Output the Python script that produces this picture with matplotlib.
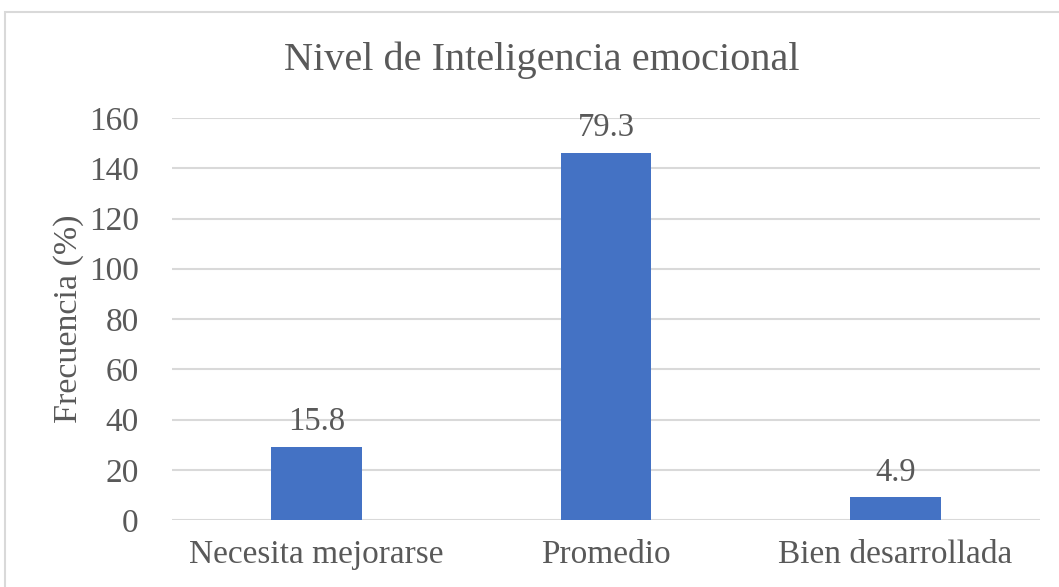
import matplotlib
matplotlib.use("Agg")
import matplotlib.pyplot as plt
from matplotlib.patches import Rectangle

# ==========================================
#  Data
# ==========================================
categories = ["Necesita mejorarse", "Promedio", "Bien desarrollada"]
frequencies = [29, 146, 9]
percent_labels = ["15.8", "79.3", "4.9"]
y_ticks = [0, 20, 40, 60, 80, 100, 120, 140, 160]

title = "Nivel de Inteligencia emocional"
y_label = "Frecuencia (%)"

# ==========================================
#  Style
# ==========================================
plt.rcParams["font.family"] = ["Liberation Serif", "DejaVu Serif"]
text_color = "#595959"
bar_color = "#4472C4"
grid_color = "#D9D9D9"

fig = plt.figure(figsize=(10.59, 5.87), dpi=100)

# outer chart frame
fig.patches.append(Rectangle((5 / 1059, -0.05), 1.1, 0.05 + (1 - 12 / 587),
                             transform=fig.transFigure, fill=False,
                             edgecolor=grid_color, linewidth=1.5))

ax = fig.add_axes([172 / 1059, 1 - 520 / 587, (1040 - 172) / 1059, (520 - 118) / 587])

x = list(range(len(categories)))
bars = ax.bar(x, frequencies, width=0.313, color=bar_color, zorder=3)

for rect, lab in zip(bars, percent_labels):
    ax.annotate(lab, (rect.get_x() + rect.get_width() / 2, rect.get_height()),
                xytext=(0, 7), textcoords="offset points", ha="center", va="bottom",
                fontsize=23.5, color=text_color)

ax.set_xlim(-0.5, len(categories) - 0.5)
ax.set_ylim(0, 160)
ax.set_yticks(y_ticks)
ax.set_xticks(x)
ax.set_xticklabels(categories)
ax.tick_params(axis="both", length=0, labelsize=24, labelcolor=text_color)
ax.tick_params(axis="y", pad=24)
ax.tick_params(axis="x", pad=14)

ax.grid(axis="y", color=grid_color, linewidth=1.5, zorder=0)
ax.set_axisbelow(True)
for s in ax.spines.values():
    s.set_visible(False)

ax.set_ylabel(y_label, fontsize=24.5, color=text_color, labelpad=3)
fig.text(542 / 1059, 1 - 60 / 587, title, ha="center", va="center",
         fontsize=29, color=text_color)

fig.savefig("out.png", dpi=100)
